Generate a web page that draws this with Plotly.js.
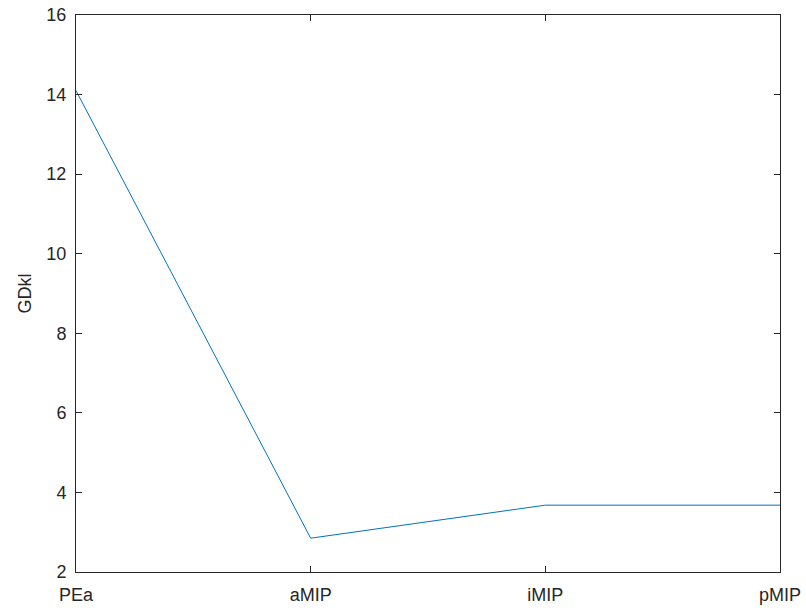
<!DOCTYPE html>
<html>
<head>
<meta charset="utf-8">
<script src="https://cdn.plot.ly/plotly-3.0.1.min.js"></script>
<style>html,body{margin:0;padding:0;background:#fff;}#chart{width:806px;height:615px;}</style>
</head>
<body>
<div id="chart"></div>
<script>
const categories = ["PEa", "aMIP", "iMIP", "pMIP"];
const gdkl = [14.1, 2.85, 3.68, 3.68];
const yTicks = [2, 4, 6, 8, 10, 12, 14, 16];

const axisCol = "#262626";
const font = {family: "Liberation Sans, Arial, sans-serif", size: 18, color: axisCol};

Plotly.newPlot("chart", [{
  x: categories,
  y: gdkl,
  type: "scatter",
  mode: "lines",
  line: {color: "#0072BD", width: 1},
  showlegend: false
}], {
  width: 806, height: 615,
  margin: {l: 76, r: 26, t: 15, b: 43, pad: 0},
  paper_bgcolor: "#fff",
  plot_bgcolor: "#fff",
  font: font,
  xaxis: {
    type: "category",
    range: [0, 3],
    showgrid: false, zeroline: false,
    showline: true, linecolor: axisCol, linewidth: 1, mirror: "allticks",
    ticks: "inside", ticklen: 6, tickcolor: axisCol, tickwidth: 1,
    tickfont: font, automargin: false, ticklabelstandoff: 6
  },
  yaxis: {
    range: [2, 16],
    tickvals: yTicks,
    showgrid: false, zeroline: false,
    showline: true, linecolor: axisCol, linewidth: 1, mirror: "allticks",
    ticks: "inside", ticklen: 6, tickcolor: axisCol, tickwidth: 1,
    tickfont: font, automargin: false, ticklabelstandoff: 5,
    title: {text: "GDkl", font: {family: font.family, size: 18, color: axisCol}, standoff: 10}
  }
}, {displayModeBar: false, staticPlot: true});
</script>
</body>
</html>
